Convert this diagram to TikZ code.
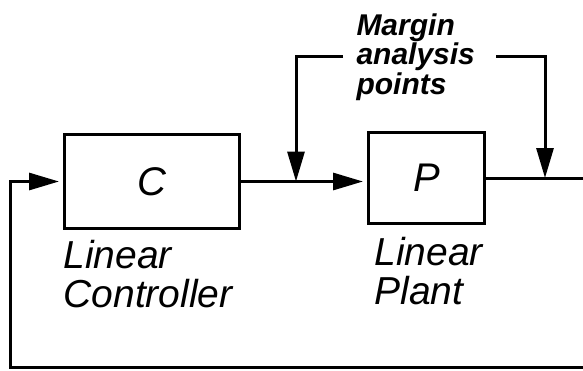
\documentclass[tikz,border=0pt]{standalone}
\usepackage{fontspec}
\setmainfont{Liberation Sans}
\usetikzlibrary{positioning,arrows.meta}

\begin{document}
\begin{tikzpicture}[x=1pt, y=-1pt, line width=3pt,
  block/.style={draw, line width=3pt, inner sep=0pt, font=\fontsize{40}{40}\selectfont\itshape},
  blockname/.style={align=left, inner sep=0pt, font=\fontsize{39}{39}\selectfont\itshape},
  >={Triangle[length=30pt, width=17pt]}]
\useasboundingbox (0,0) rectangle (583,370);
\node[block, minimum width=175pt, minimum height=94pt] (ctrl) at (152,181.5) {C};
\node[block, minimum width=116pt, minimum height=91pt] (plant) at (426.5,178) {P};
\node[blockname, below right=9pt and -1pt of ctrl.south west, anchor=north west] (ctrlname) {Linear\\Controller};
\node[blockname, below right=11pt and 6pt of plant.south west, anchor=north west] (plantname) {Linear\\Plant};
\node[align=left, inner sep=0pt, anchor=north west, font=\fontsize{30}{29.5}\selectfont\bfseries\itshape] (margin) at (355,12) {Margin\\analysis\\points};
% analysis points on the loop
\coordinate (tapin) at (296,181.5);
\coordinate (tapout) at (545,178);
\coordinate (outend) at (583,178);
\coordinate (fbend) at (583,367);
\coordinate (fbcorner) at (10,367);
\draw[->, shorten >=4pt] (ctrl.east) -- (ctrl.east -| plant.west);
\draw (plant.east) -- (outend);
\draw[->, shorten >=4pt] (fbend) -- (fbcorner) |- (ctrl.west);
\draw[->] ([xshift=-12pt]margin.west) -| (tapin);
\draw[->] ([xshift=20pt]margin.east) -| (tapout);
\end{tikzpicture}
\end{document}
